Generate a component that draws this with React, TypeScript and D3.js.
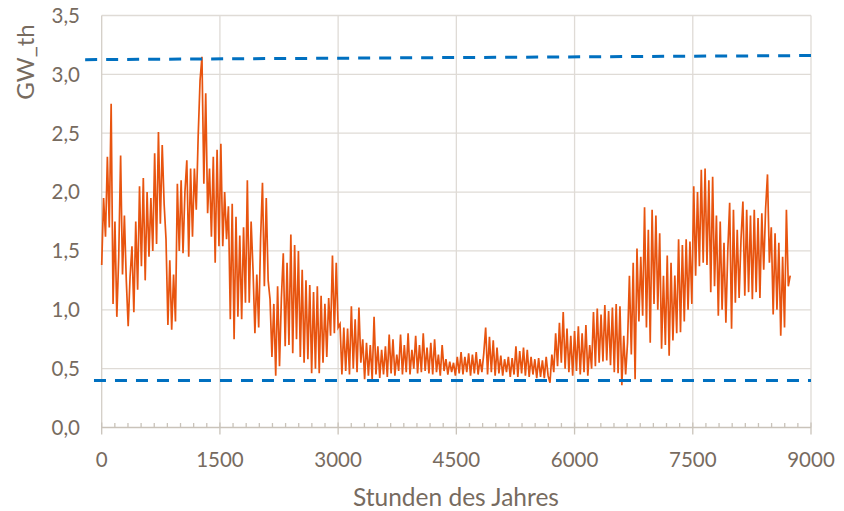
import React, { useEffect, useRef } from 'react';
import * as d3 from 'd3';

// Daily samples (every 24 h) of the hourly heat load, GW_th
const STEP_HOURS = 24;
const loadValues: number[] = [
    1.38, 1.95, 1.62, 2.30, 1.70, 2.75, 1.05,
    1.75, 0.94, 1.45, 2.31, 1.30, 1.80, 1.25,
    0.86, 1.28, 1.54, 0.98, 1.75, 1.17, 2.05,
    1.37, 2.12, 1.25, 2.00, 1.45, 1.95, 1.50,
    2.33, 1.56, 2.51, 1.73, 2.40, 1.90, 1.60,
    0.87, 1.42, 0.83, 1.30, 0.90, 2.07, 1.50,
    2.10, 1.48, 2.00, 2.27, 1.45, 2.20, 1.62,
    2.20, 1.85, 2.47, 2.95, 3.15, 2.07, 2.84,
    1.82, 2.20, 1.62, 2.30, 1.40, 2.36, 1.54,
    2.41, 1.54, 2.00, 1.60, 1.88, 0.92, 1.90,
    0.75, 1.79, 0.94, 1.63, 0.92, 1.70, 1.06,
    2.10, 1.06, 1.75, 1.34, 0.80, 1.30, 0.85,
    1.60, 2.08, 1.20, 1.95, 1.25, 1.09, 0.60,
    1.05, 0.44, 1.20, 0.52, 1.10, 1.48, 0.69,
    1.40, 0.70, 1.64, 0.63, 1.55, 0.75, 1.50,
    0.60, 1.34, 0.55, 1.25, 0.58, 1.21, 0.46,
    1.15, 0.50, 1.20, 0.46, 1.12, 0.55, 1.05,
    0.60, 1.10, 0.78, 1.46, 0.80, 1.40, 0.85,
    0.88, 0.45, 0.85, 0.48, 0.84, 0.45, 1.03,
    0.50, 0.92, 0.47, 1.02, 0.55, 0.75, 0.41,
    0.72, 0.44, 0.70, 0.41, 0.94, 0.45, 0.69,
    0.42, 0.66, 0.45, 0.69, 0.43, 0.79, 0.46,
    0.75, 0.44, 0.62, 0.48, 0.79, 0.45, 0.70,
    0.47, 0.80, 0.45, 0.66, 0.50, 0.78, 0.46,
    0.70, 0.47, 0.80, 0.48, 0.68, 0.46, 0.72,
    0.45, 0.75, 0.47, 0.62, 0.44, 0.70, 0.48,
    0.58, 0.45, 0.56, 0.47, 0.55, 0.44, 0.60,
    0.46, 0.64, 0.45, 0.60, 0.47, 0.63, 0.44,
    0.62, 0.46, 0.64, 0.45, 0.58, 0.47, 0.63,
    0.85, 0.45, 0.77, 0.47, 0.74, 0.44, 0.68,
    0.46, 0.61, 0.44, 0.58, 0.47, 0.60, 0.43,
    0.59, 0.45, 0.69, 0.43, 0.65, 0.46, 0.68,
    0.44, 0.66, 0.43, 0.60, 0.45, 0.58, 0.42,
    0.59, 0.43, 0.57, 0.42, 0.60, 0.44, 0.38,
    0.62, 0.47, 0.80, 0.52, 0.89, 0.55, 0.98,
    0.50, 0.84, 0.47, 0.78, 0.44, 0.82, 0.48,
    0.86, 0.45, 0.80, 0.47, 0.87, 0.44, 0.70,
    0.50, 0.98, 0.52, 1.01, 0.55, 0.96, 0.56,
    1.04, 0.57, 0.99, 0.53, 1.02, 0.47, 1.05,
    0.46, 1.03, 0.36, 0.78, 0.45, 0.72, 1.29,
    0.62, 1.40, 0.41, 1.52, 0.90, 1.45, 0.95,
    1.87, 0.85, 1.68, 0.72, 1.85, 1.05, 1.80,
    1.00, 1.65, 0.67, 1.29, 0.70, 1.46, 0.61,
    1.40, 0.74, 1.29, 0.80, 1.60, 0.81, 1.55,
    0.90, 1.60, 1.00, 1.58, 1.05, 2.05, 1.29,
    2.00, 1.37, 2.19, 1.40, 2.20, 1.38, 2.10,
    1.15, 2.13, 1.20, 1.80, 0.95, 1.75, 1.00,
    1.57, 0.89, 1.50, 1.91, 0.84, 1.85, 1.06,
    1.68, 1.10, 1.60, 1.92, 1.12, 1.85, 1.15,
    1.80, 1.09, 1.85, 1.15, 1.78, 1.10, 1.82,
    1.34, 1.86, 2.15, 1.40, 1.70, 0.96, 1.65,
    1.00, 1.57, 0.78, 1.45, 0.85, 1.85, 1.20,
    1.29,
];

// Dashed limit lines [hour, GW_th]
const upperLimit: [number, number][] = [[-210, 3.125], [9000, 3.16]];
const lowerLimit: [number, number][] = [[-98, 0.40], [9000, 0.40]];

const xTicks = [0, 1500, 3000, 4500, 6000, 7500, 9000];
const yTicks = [0, 0.5, 1, 1.5, 2, 2.5, 3, 3.5];

const HeatChart: React.FC = () => {
    const svgRef = useRef<SVGSVGElement>(null);

    useEffect(() => {
        d3.select(svgRef.current).selectAll('*').remove();

        const width = 844;
        const height = 511;
        const font = 'Lato, "Open Sans", sans-serif';
        const textColor = '#776b5f';

        const svg = d3.select(svgRef.current)
            .attr('width', width)
            .attr('height', height)
            .style('background', '#ffffff');

        const x = d3.scaleLinear().domain([0, 9000]).range([101.7, 811]);
        const y = d3.scaleLinear().domain([0, 3.5]).range([427.5, 15.5]);

        // Horizontal gridlines
        svg.append('g')
            .selectAll('line')
            .data(yTicks.filter(t => t > 0))
            .enter()
            .append('line')
            .attr('x1', x(0))
            .attr('x2', x(9000))
            .attr('y1', d => y(d))
            .attr('y2', d => y(d))
            .attr('stroke', '#dfdbd6')
            .attr('stroke-width', 1.3);

        // Vertical gridlines
        svg.append('g')
            .selectAll('line')
            .data(xTicks)
            .enter()
            .append('line')
            .attr('x1', d => x(d))
            .attr('x2', d => x(d))
            .attr('y1', y(3.5))
            .attr('y2', y(0))
            .attr('stroke', d => (d === 0 ? '#d3cec7' : '#dfdbd6'))
            .attr('stroke-width', 1.3);

        // Bottom axis line with ticks
        const axisColor = '#c9c3ba';
        svg.append('line')
            .attr('x1', x(0))
            .attr('x2', x(9000))
            .attr('y1', y(0))
            .attr('y2', y(0))
            .attr('stroke', axisColor)
            .attr('stroke-width', 1.5);

        const minorTicks = d3.range(0, 9001, 1500 / 9)
            .filter(t => Math.abs(t / 1500 - Math.round(t / 1500)) > 0.01);
        svg.append('g')
            .selectAll('line')
            .data(minorTicks)
            .enter()
            .append('line')
            .attr('x1', d => x(d))
            .attr('x2', d => x(d))
            .attr('y1', y(0))
            .attr('y2', y(0) - 4.5)
            .attr('stroke', axisColor)
            .attr('stroke-width', 1.3);

        svg.append('g')
            .selectAll('line')
            .data(xTicks)
            .enter()
            .append('line')
            .attr('x1', d => x(d))
            .attr('x2', d => x(d))
            .attr('y1', y(0) - 5)
            .attr('y2', y(0) + 7)
            .attr('stroke', axisColor)
            .attr('stroke-width', 1.3);

        // Heat load line
        const line = d3.line<number>()
            .x((_, i) => x(i * STEP_HOURS))
            .y(d => y(d));

        svg.append('path')
            .datum(loadValues)
            .attr('d', line)
            .attr('fill', 'none')
            .attr('stroke', '#e8540f')
            .attr('stroke-width', 1.7)
            .attr('stroke-linejoin', 'miter');

        // Limit lines
        const limitLine = d3.line<[number, number]>()
            .x(d => x(d[0]))
            .y(d => y(d[1]));

        [upperLimit, lowerLimit].forEach(pts => {
            svg.append('path')
                .datum(pts)
                .attr('d', limitLine)
                .attr('fill', 'none')
                .attr('stroke', '#0070c0')
                .attr('stroke-width', 3)
                .attr('stroke-dasharray', '12,9');
        });

        // Y tick labels
        svg.append('g')
            .selectAll('text')
            .data(yTicks)
            .enter()
            .append('text')
            .attr('x', 80)
            .attr('y', d => y(d))
            .attr('dy', '0.36em')
            .attr('text-anchor', 'end')
            .attr('font-family', font)
            .attr('font-size', 20.5)
            .attr('fill', textColor)
            .text(d => d.toFixed(1).replace('.', ','));

        // X tick labels
        svg.append('g')
            .selectAll('text')
            .data(xTicks)
            .enter()
            .append('text')
            .attr('x', d => x(d))
            .attr('y', 467)
            .attr('text-anchor', 'middle')
            .attr('font-family', font)
            .attr('font-size', 20.5)
            .attr('fill', textColor)
            .text(d => String(d));

        // Axis titles
        svg.append('text')
            .attr('transform', 'translate(34,62) rotate(-90)')
            .attr('text-anchor', 'middle')
            .attr('font-family', font)
            .attr('font-size', 24)
            .attr('fill', textColor)
            .text('GW_th');

        svg.append('text')
            .attr('x', 456)
            .attr('y', 506)
            .attr('text-anchor', 'middle')
            .attr('font-family', font)
            .attr('font-size', 24.5)
            .attr('fill', textColor)
            .text('Stunden des Jahres');
    }, []);

    return <svg ref={svgRef} style={{ position: 'absolute', left: 0, top: 0 }}></svg>;
};

export default function App() {
    return <HeatChart />;
}
